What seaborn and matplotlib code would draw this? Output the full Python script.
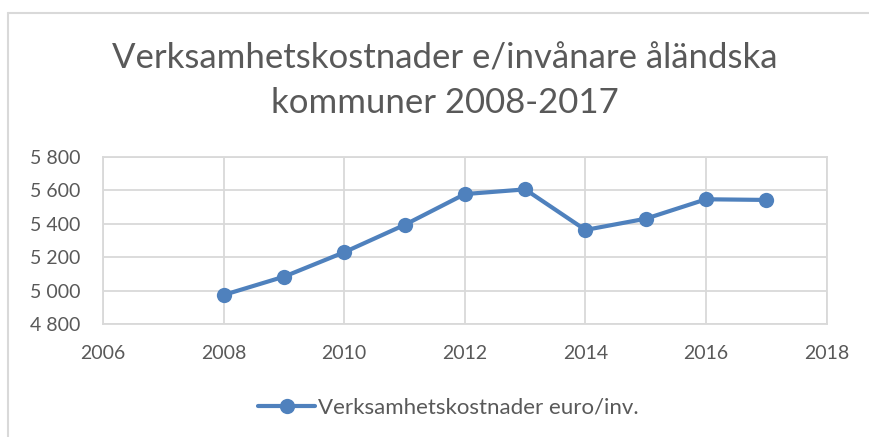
import matplotlib
matplotlib.use("Agg")
import matplotlib.pyplot as plt
import matplotlib.ticker as mticker
from matplotlib.lines import Line2D
import seaborn as sns
import pandas as pd

# data
YEARS = [2008, 2009, 2010, 2011, 2012, 2013, 2014, 2015, 2016, 2017]
COSTS = [4975, 5084, 5230, 5393, 5577, 5605, 5363, 5430, 5546, 5542]
SERIES_NAME = "Verksamhetskostnader euro/inv."
TITLE = "Verksamhetskostnader e/invånare åländska\nkommuner 2008-2017"

LINE_COLOR = "#4f81bd"
TEXT_COLOR = "#595959"
GRID_COLOR = "#d9d9d9"

sns.set_theme(style="whitegrid")
plt.rcParams['font.family'] = ['Lato', 'DejaVu Sans']

df = pd.DataFrame({"year": YEARS, "cost": COSTS})

W, H = 869, 437
fig = plt.figure(figsize=(W / 100, H / 100), dpi=100)
ax = fig.add_axes([103 / W, 1 - 324.3 / H, (826.7 - 103) / W, (324.3 - 156.7) / H])

sns.lineplot(data=df, x="year", y="cost", ax=ax, color=LINE_COLOR, linewidth=3,
             marker="o", markersize=11, markeredgewidth=0, legend=False)

ax.set_xlim(2006, 2018)
ax.set_ylim(4800, 5800)
ax.xaxis.set_major_locator(mticker.MultipleLocator(2))
ax.yaxis.set_major_locator(mticker.MultipleLocator(200))
ax.yaxis.set_major_formatter(mticker.FuncFormatter(lambda v, p: f"{int(v):,}".replace(",", " ")))
ax.set_xlabel("")
ax.set_ylabel("")
ax.grid(True, color=GRID_COLOR, linewidth=1.3)
for s in ax.spines.values():
    s.set_color(GRID_COLOR)
    s.set_linewidth(1.3)
ax.tick_params(axis="both", colors=TEXT_COLOR, labelsize=14, length=0)
ax.tick_params(axis="x", pad=15)
ax.tick_params(axis="y", pad=16)

# two-line title, centred a little right of the figure middle like the original
title_x = 445 / W
fig.text(title_x, 1 - 58 / H, TITLE.split("\n")[0], ha="center", va="center",
         fontsize=25, color=TEXT_COLOR)
fig.text(title_x, 1 - 103 / H, TITLE.split("\n")[1], ha="center", va="center",
         fontsize=25, color=TEXT_COLOR)

handle = Line2D([], [], color=LINE_COLOR, linewidth=3, marker="o", markersize=11,
                markeredgewidth=0)
fig.legend([handle], [SERIES_NAME], loc="center", bbox_to_anchor=(448 / W, 1 - 408 / H),
           frameon=False, fontsize=16, labelcolor=TEXT_COLOR, handlelength=2.6,
           handletextpad=0.1)

# outer chart frame
fig.add_artist(Line2D([8 / W, 8 / W], [0, 1 - 12.5 / H], color="#d9d9d9", linewidth=1.5))
fig.add_artist(Line2D([8 / W, 1], [1 - 12.5 / H, 1 - 12.5 / H], color="#d9d9d9", linewidth=1.5))

fig.savefig("out.png", dpi=100, facecolor="white")
